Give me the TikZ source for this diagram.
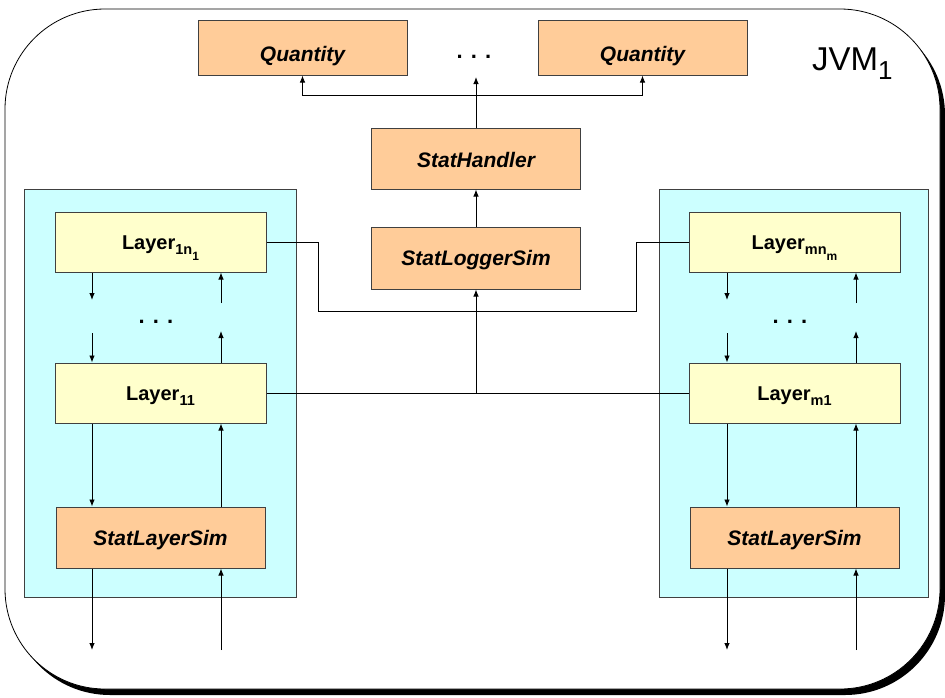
\documentclass[tikz,border=0pt]{standalone}
\usepackage{fontspec}
\setmainfont{Liberation Sans}
\usetikzlibrary{arrows.meta}
\definecolor{peach}{HTML}{FFCC99}
\definecolor{lyellow}{HTML}{FFFFCC}
\definecolor{lcyan}{HTML}{CCFFFF}
\definecolor{bordergray}{HTML}{404040}
\newcommand{\lowtxt}[3]{\raisebox{-#2pt}{\fontsize{#1}{#1}\selectfont #3}}
\begin{document}
\begin{tikzpicture}[x=1pt,y=-1pt,
  cls/.style={draw=bordergray,line width=1pt,fill=peach,minimum width=209pt,minimum height=#1,inner sep=0pt,
    text height=15pt,text depth=0pt,font=\fontsize{21}{24}\selectfont\bfseries\itshape},
  cls/.default=55pt,
  lay/.style={draw=bordergray,line width=1pt,fill=lyellow,minimum width=211pt,minimum height=60pt,inner sep=0pt,
    text height=14.5pt,text depth=0pt,font=\fontsize{20}{24}\selectfont\bfseries},
  panel/.style={draw=bordergray,line width=0.8pt,fill=lcyan},
  conn/.style={draw=black,line width=0.9pt},
  arr/.style={conn,-{Latex[length=7pt,width=5.5pt]}},
  dots/.style={font=\fontsize{22}{22}\selectfont\bfseries}]
\useasboundingbox (0,0) rectangle (945,697);
% outer JVM frame with shadow
\fill[black,rounded corners=100pt] (10,15) rectangle (945,695);
\draw[fill=white,line width=0.8pt,rounded corners=100pt] (5,9) rectangle (940,689);
\node[font=\fontsize{33}{33}\selectfont,anchor=base west,inner sep=0pt] (jvm) at (812,70) {JVM\lowtxt{26}{9}{1}};
% panels
\draw[panel] (24,189) rectangle (296,597);
\draw[panel] (659,189) rectangle (928,597);
% class boxes
\node[cls] (Q1) at (302.5,47.5) {\raisebox{-6pt}{Quantity}};
\node[cls] (Q2) at (642.5,47.5) {\raisebox{-6pt}{Quantity}};
\node[dots] (qd) at (474,57) {. . .};
\node[cls=61pt] (SH) at (476,158.5) {\raisebox{-1.5pt}{StatHandler}};
\node[cls=62pt] (SL) at (476,258) {StatLoggerSim};
% left column
\node[lay] (L1n) at (160.5,242) {Layer\lowtxt{14.5}{5}{1n\lowtxt{12}{6}{1}}};
\node[lay] (L11) at (160.5,393) {Layer\lowtxt{14.5}{5}{11}};
\node[cls=61pt] (SLl) at (160.5,537.5) {StatLayerSim};
\node[dots] (ld) at (156,322) {. . .};
% right column
\node[lay] (Lmn) at (794.5,242) {Layer\lowtxt{14.5}{5}{mn\lowtxt{12}{6}{m}}};
\node[lay] (Lm1) at (794.5,393) {Layer\lowtxt{14.5}{5}{m1}};
\node[cls=61pt] (SLr) at (794.5,537.5) {StatLayerSim};
\node[dots] (rd) at (790,322) {. . .};
% top connectors
\coordinate (tj) at (476,95);
\coordinate (tdot) at (476,77);
\draw[arr] (SL.north) -- (SH.south);
\draw[conn] (SH.north) -- (tj);
\draw[arr] (tj) -- (tdot);
\draw[arr] (tj) -| (Q1.south);
\draw[arr] (tj) -| (Q2.south);
% middle connectors
\coordinate (jl) at (318,311);
\coordinate (jr) at (636,311);
\coordinate (mj) at (476,393);
\draw[conn] (L1n.east) -| (jl) -- (jr) |- (Lmn.west);
\draw[conn] (L11.east) -- (Lm1.west);
\draw[arr] (mj) -- (SL.south);
% left column arrows
\coordinate (la1) at (92,300);
\coordinate (la2) at (92,333);
\coordinate (lb1) at (221,303);
\coordinate (lb2) at (221,331);
\coordinate (la3) at (92,650);
\coordinate (lb3) at (221,650);
\draw[arr] (L1n.south -| la1) -- (la1);
\draw[arr] (la2) -- (L11.north -| la2);
\draw[arr] (lb1) -- (L1n.south -| lb1);
\draw[arr] (L11.north -| lb2) -- (lb2);
\draw[arr] (L11.south -| la1) -- (SLl.north -| la1);
\draw[arr] (SLl.north -| lb1) -- (L11.south -| lb1);
\draw[arr] (SLl.south -| la3) -- (la3);
\draw[arr] (lb3) -- (SLl.south -| lb3);
% right column arrows
\coordinate (ra1) at (727,300);
\coordinate (ra2) at (727,333);
\coordinate (rb1) at (856,303);
\coordinate (rb2) at (856,331);
\coordinate (ra3) at (727,650);
\coordinate (rb3) at (856,650);
\draw[arr] (Lmn.south -| ra1) -- (ra1);
\draw[arr] (ra2) -- (Lm1.north -| ra2);
\draw[arr] (rb1) -- (Lmn.south -| rb1);
\draw[arr] (Lm1.north -| rb2) -- (rb2);
\draw[arr] (Lm1.south -| ra1) -- (SLr.north -| ra1);
\draw[arr] (SLr.north -| rb1) -- (Lm1.south -| rb1);
\draw[arr] (SLr.south -| ra3) -- (ra3);
\draw[arr] (rb3) -- (SLr.south -| rb3);
\end{tikzpicture}
\end{document}
